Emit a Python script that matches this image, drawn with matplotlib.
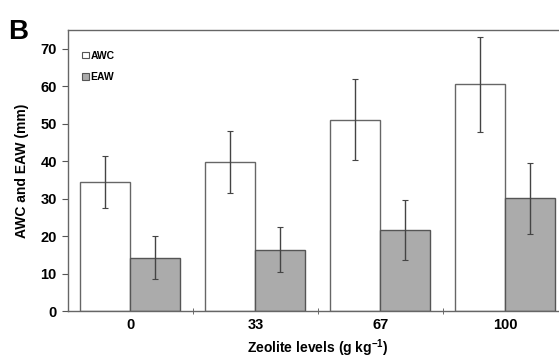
import numpy as np
import matplotlib
matplotlib.use("Agg")
import matplotlib.pyplot as plt
from matplotlib.patches import Patch

plt.rcParams['font.family'] = ['Liberation Sans', 'DejaVu Sans']
plt.rcParams['mathtext.fontset'] = 'custom'
plt.rcParams['mathtext.bf'] = 'Liberation Sans:bold'
plt.rcParams['mathtext.rm'] = 'Liberation Sans:bold'
plt.rcParams['mathtext.default'] = 'bf'

levels = ['0', '33', '67', '100']
awc = [34.5, 39.7, 51.0, 60.5]
awc_err = [7.0, 8.3, 10.8, 12.7]
eaw = [14.2, 16.4, 21.5, 30.1]
eaw_err = [5.7, 6.1, 8.0, 9.5]

fig = plt.figure(figsize=(5.59, 3.59), dpi=100)
ax = fig.add_axes([0.1216, 0.1337, 1.016 - 0.1216, 0.9164 - 0.1337])

x = np.arange(len(levels))
w = 0.4
errkw = dict(ecolor='#444444', elinewidth=1.0, capsize=2, capthick=0.8)
ax.bar(x - w / 2, awc, w, yerr=awc_err, color='white', edgecolor='#666666',
       linewidth=1.0, error_kw=errkw)
ax.bar(x + w / 2, eaw, w, yerr=eaw_err, color='#ababab', edgecolor='#555555',
       linewidth=1.0, error_kw=errkw)

ax.set_xlim(-0.5, 3.5)
ax.set_ylim(0, 75)
ax.set_yticks(range(0, 80, 10))
ax.set_xticks(x)
ax.set_xticklabels(levels)
ax.set_xticks([0.5, 1.5, 2.5], minor=True)
ax.tick_params(axis='x', which='major', length=0, pad=5)
ax.tick_params(axis='x', which='minor', length=5, direction='inout', color='#555555')
ax.tick_params(axis='y', length=4, color='#555555', pad=4)
for lab in ax.get_xticklabels() + ax.get_yticklabels():
    lab.set_fontweight('bold')
    lab.set_fontsize(10.5)

for s in ax.spines.values():
    s.set_color('#666666')
    s.set_linewidth(1.0)

ax.set_ylabel('AWC and EAW (mm)', fontsize=10, fontweight='bold', labelpad=8)
ax.set_xlabel('Zeolite levels (g kg$^{-1}$)', fontsize=10, fontweight='bold', labelpad=4)

handles = [Patch(facecolor='white', edgecolor='#555555', linewidth=0.8, label='AWC'),
           Patch(facecolor='#ababab', edgecolor='#555555', linewidth=0.8, label='EAW')]
leg = ax.legend(handles=handles, loc='upper left', bbox_to_anchor=(0.01, 0.96),
                frameon=False, prop={'weight': 'bold', 'size': 7.5},
                handlelength=0.6, handleheight=0.6, handletextpad=0.2, labelspacing=1.1)

fig.text(0.015, 0.89, 'B', fontsize=20, fontweight='bold')

fig.savefig('out.png', dpi=100)
